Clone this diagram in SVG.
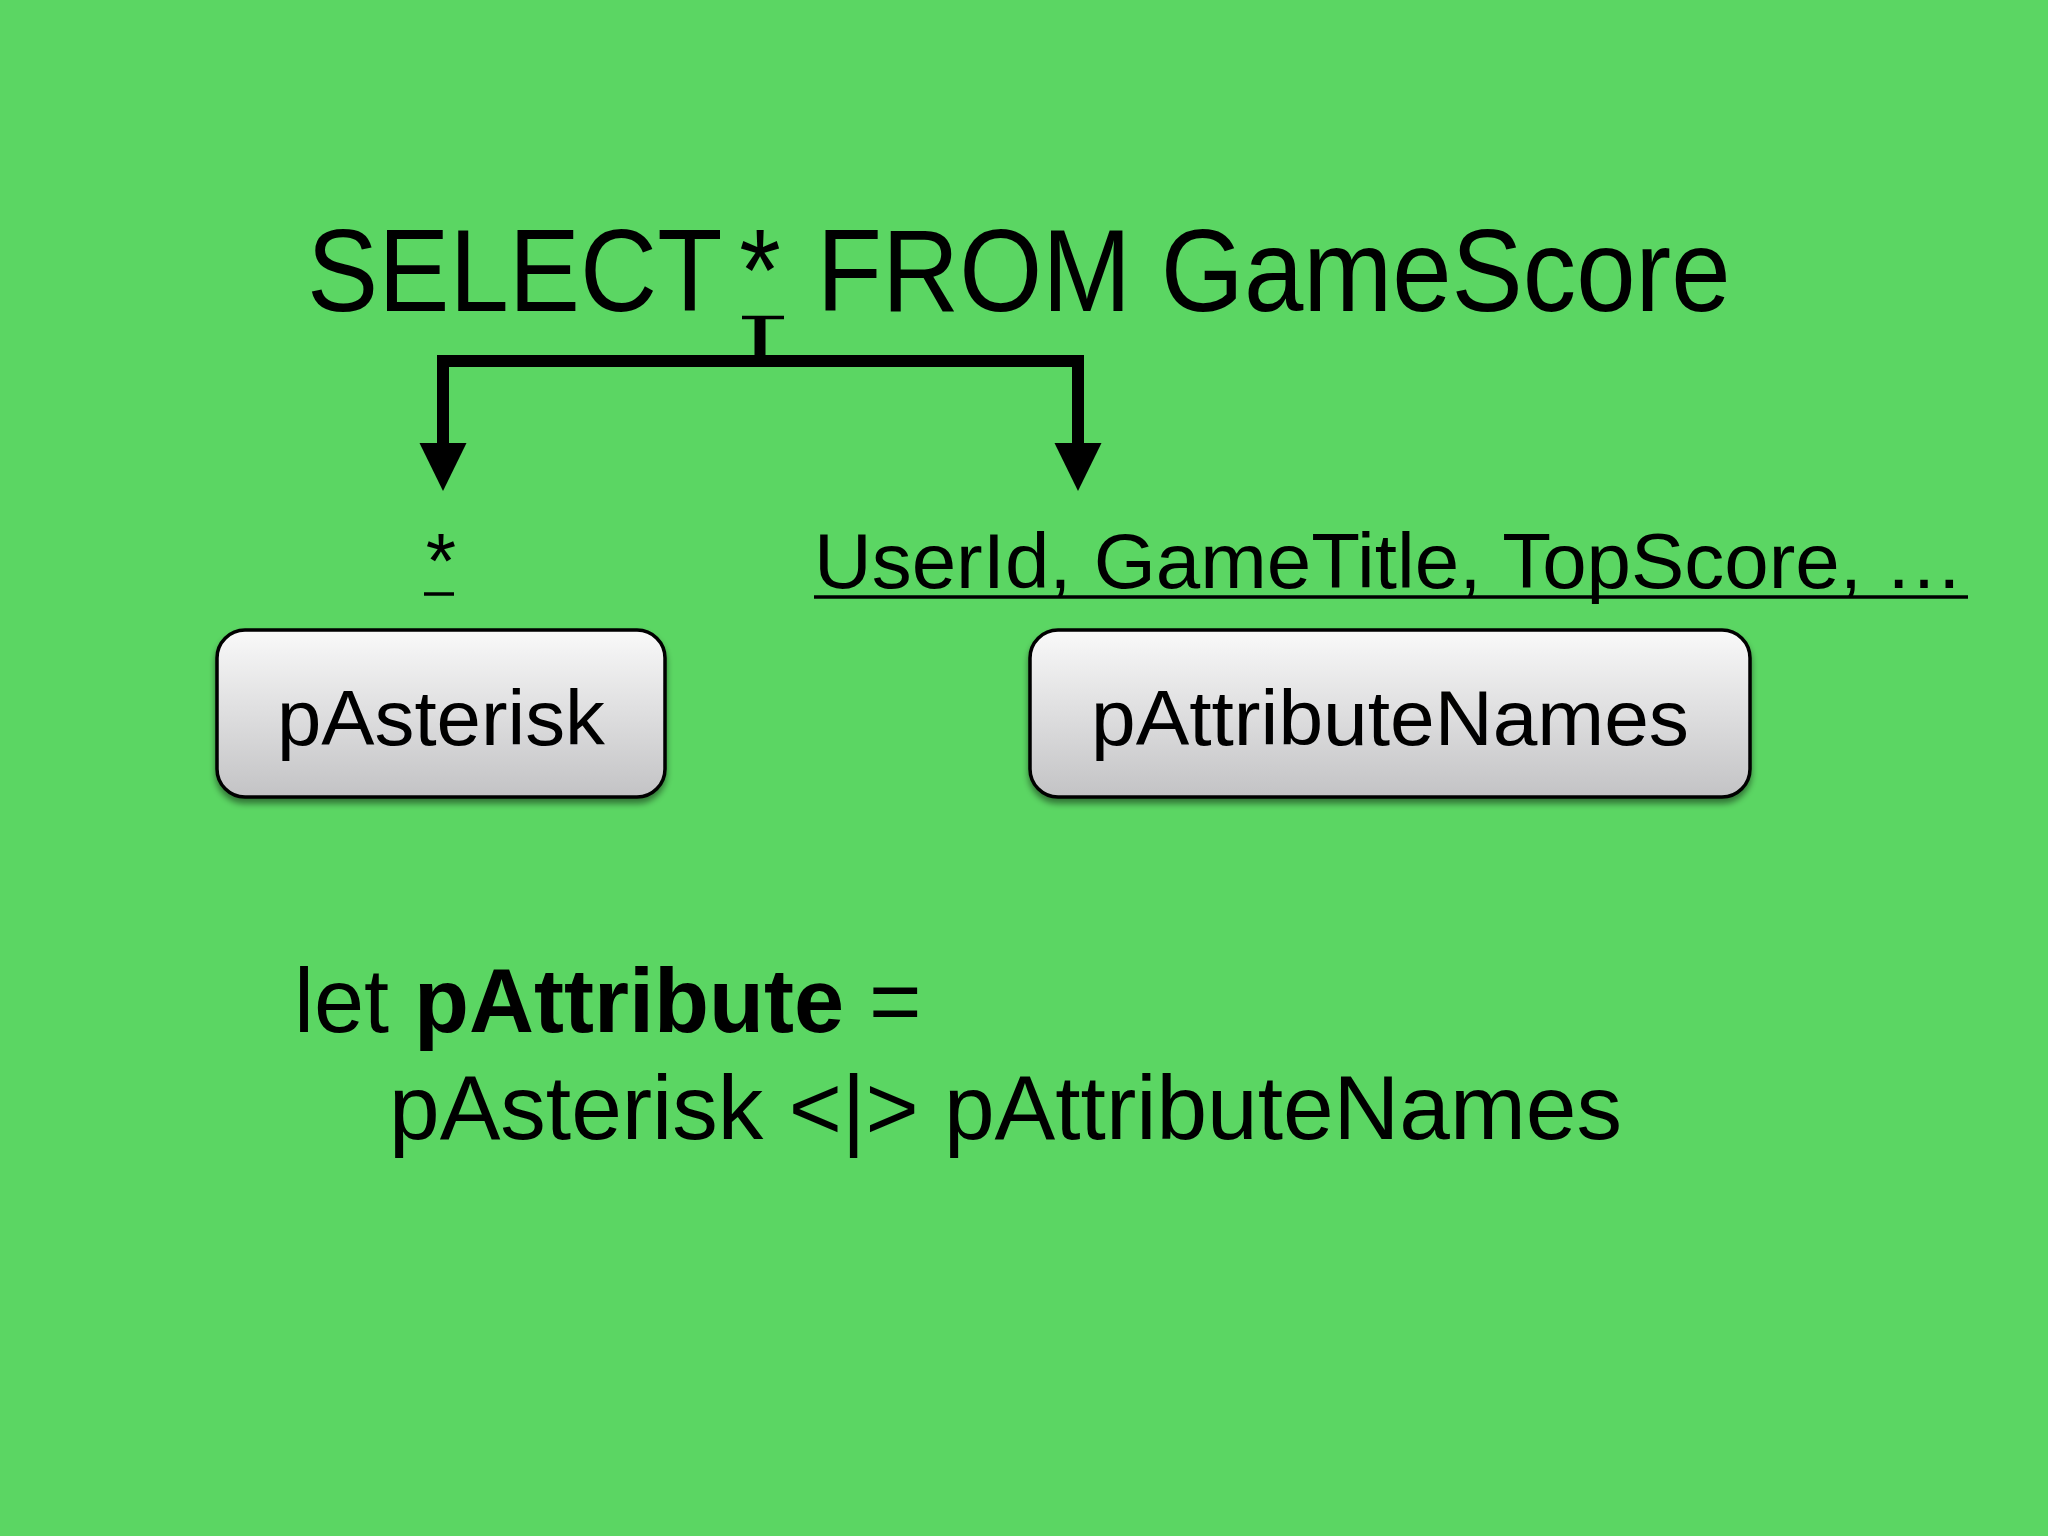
<svg xmlns="http://www.w3.org/2000/svg" width="2048" height="1536" viewBox="0 0 2048 1536">
<style>
.t{font-family:"Liberation Sans",Arial,Helvetica,sans-serif;fill:#000}
.box{stroke:#000;stroke-width:3.5;fill:url(#g)}
.c{fill:none;stroke:#000;stroke-width:12;stroke-linejoin:miter}
.u{stroke:#000;stroke-width:3.5}
</style>
<defs>
<linearGradient id="g" x1="0" y1="0" x2="0" y2="1">
<stop offset="0" stop-color="#f9f9f9"/>
<stop offset="1" stop-color="#c3c3c5"/>
</linearGradient>
<filter id="sh" x="-10%" y="-10%" width="120%" height="130%">
<feDropShadow dx="0" dy="5" stdDeviation="3" flood-color="#000" flood-opacity="0.45"/>
</filter>
<marker id="ah" markerUnits="userSpaceOnUse" markerWidth="50" markerHeight="50" viewBox="0 -25 50 50" refX="0" refY="0" orient="auto">
<path d="M0,-23.5 L48,0 L0,23.5 z" fill="#000"/>
</marker>
</defs>
<rect width="2048" height="1536" fill="#5bd663"/>
<g id="title">
<text class="t" transform="translate(307,311) scale(0.9126,1)" x="0" y="0" font-size="117">SELECT<tspan word-spacing="-14"> *</tspan><tspan word-spacing="7"> FROM</tspan> GameScore</text>
</g>
<g id="connectors">
<path class="u" d="M742,317.5 H784"/>
<path d="M760,317 V361" fill="none" stroke="#000" stroke-width="11"/>
<path class="c" d="M766,361 H443 V443" marker-end="url(#ah)"/>
<path class="c" d="M754,361 H1078 V443" marker-end="url(#ah)"/>
</g>
<g id="label-asterisk">
<text class="t" x="441" y="588" font-size="78" text-anchor="middle">*</text>
<path class="u" d="M424,594 H454"/>
</g>
<g id="label-attributes">
<text class="t" x="814" y="588" font-size="78" textLength="1150" lengthAdjust="spacingAndGlyphs">UserId, GameTitle, TopScore, …</text>
<path class="u" d="M814,597 H1968"/>
</g>
<g id="node-pAsterisk">
<rect class="box" x="217" y="630" width="448" height="167" rx="28" filter="url(#sh)"/>
<text class="t" x="441" y="745" font-size="78" text-anchor="middle" textLength="328" lengthAdjust="spacingAndGlyphs">pAsterisk</text>
</g>
<g id="node-pAttributeNames">
<rect class="box" x="1030" y="630" width="720" height="167" rx="28" filter="url(#sh)"/>
<text class="t" x="1390" y="745" font-size="78" text-anchor="middle" textLength="598" lengthAdjust="spacingAndGlyphs">pAttributeNames</text>
</g>
<g id="code">
<text class="t" x="294" y="1032" font-size="90">let <tspan font-weight="bold">pAttribute</tspan> =</text>
<text class="t" x="389" y="1139" font-size="90" textLength="1233" lengthAdjust="spacingAndGlyphs">pAsterisk &lt;|&gt; pAttributeNames</text>
</g>
</svg>
